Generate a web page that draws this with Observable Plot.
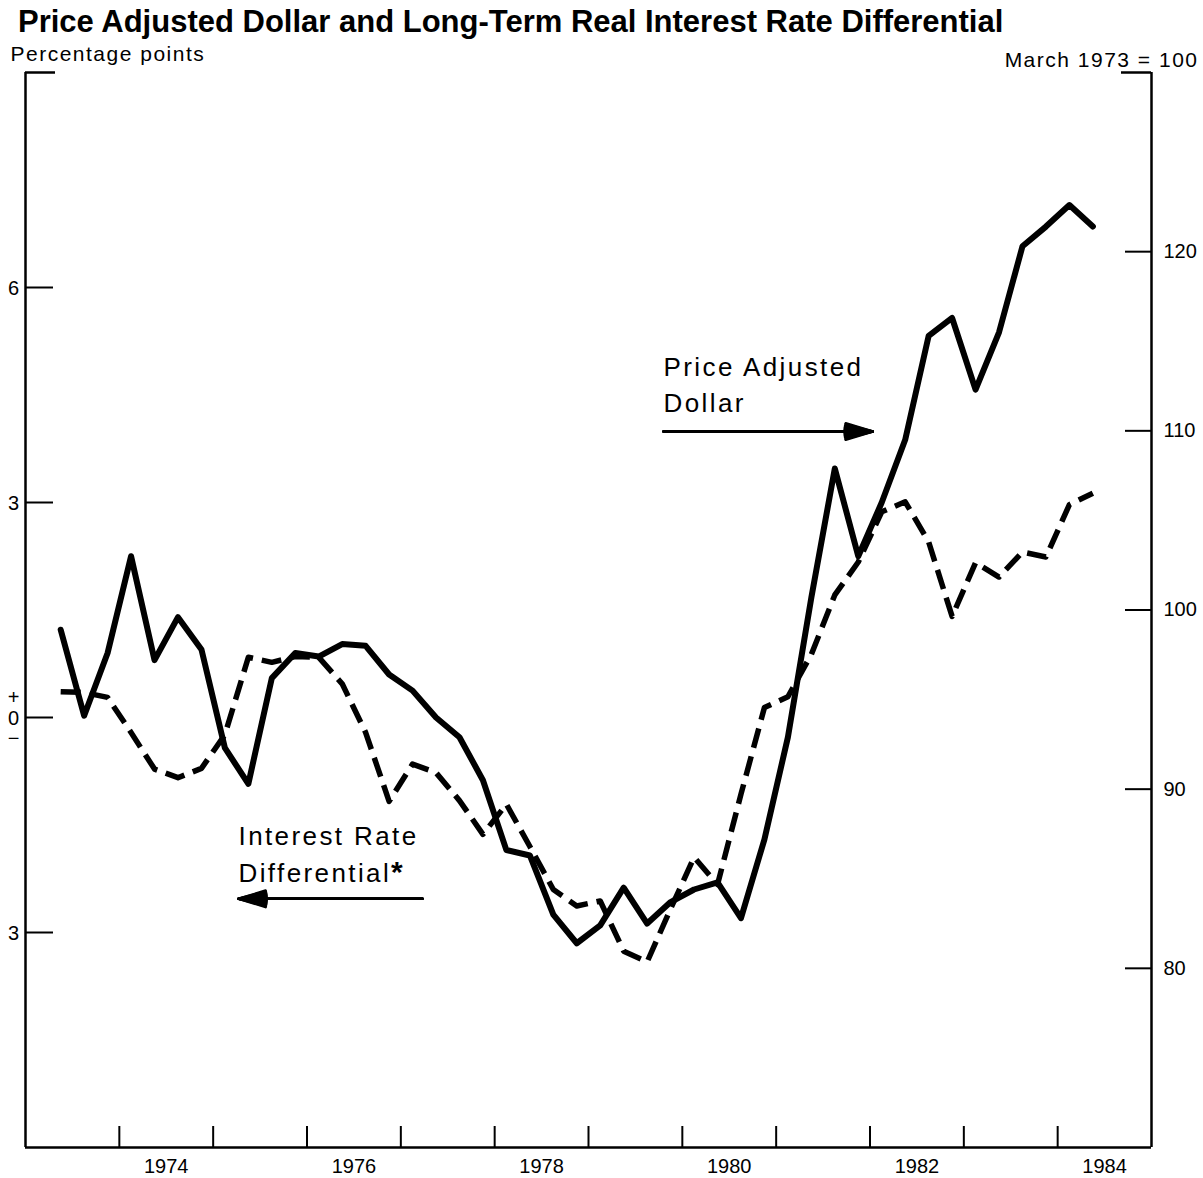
<!DOCTYPE html>
<html>
<head>
<meta charset="utf-8">
<script src="https://cdn.jsdelivr.net/npm/d3@7"></script>
<script src="https://cdn.jsdelivr.net/npm/@observablehq/plot@0.6"></script>
<style>
  html, body { margin: 0; padding: 0; background: #fff; }
  #title {
    font-family: "Liberation Sans", Arial, Helvetica, sans-serif;
    font-weight: bold; font-size: 31px; line-height: 36px;
    height: 36px; padding: 4px 0 0 18px; color: #000; white-space: nowrap;
  }
  #chart svg { display: block; }
</style>
</head>
<body>
<div id="title">Price Adjusted Dollar and Long-Term Real Interest Rate Differential</div>
<div id="chart"></div>
<script>
// Quarterly observations (plotted at quarter midpoints)
const quarters = [
  "1973Q2","1973Q3","1973Q4",
  "1974Q1","1974Q2","1974Q3","1974Q4",
  "1975Q1","1975Q2","1975Q3","1975Q4",
  "1976Q1","1976Q2","1976Q3","1976Q4",
  "1977Q1","1977Q2","1977Q3","1977Q4",
  "1978Q1","1978Q2","1978Q3","1978Q4",
  "1979Q1","1979Q2","1979Q3","1979Q4",
  "1980Q1","1980Q2","1980Q3","1980Q4",
  "1981Q1","1981Q2","1981Q3","1981Q4",
  "1982Q1","1982Q2","1982Q3","1982Q4",
  "1983Q1","1983Q2","1983Q3","1983Q4",
  "1984Q1","1984Q2"
];
// Price adjusted dollar, March 1973 = 100 (right scale)
const dollarIndex = [
  98.9, 94.1, 97.6,
  103.0, 97.2, 99.6, 97.8,
  92.3, 90.3, 96.2, 97.6,
  97.4, 98.1, 98.0, 96.4,
  95.5, 94.0, 92.9, 90.5,
  86.6, 86.3, 83.0, 81.4,
  82.4, 84.5, 82.5, 83.7,
  84.4, 84.8, 82.8, 87.2,
  92.9, 100.7, 107.9, 103.0,
  106.0, 109.5, 115.3, 116.3,
  112.3, 115.5, 120.3, 121.4,
  122.6, 121.4
];
// Long-term real interest rate differential, percentage points (left scale)
const rateDiff = [
  0.36, 0.35, 0.28,
  -0.21, -0.72, -0.84, -0.71,
  -0.24, 0.84, 0.77, 0.85,
  0.84, 0.47, -0.21, -1.17,
  -0.65, -0.77, -1.16, -1.63,
  -1.21, -1.80, -2.40, -2.63,
  -2.56, -3.26, -3.41, -2.67,
  -1.95, -2.33, -1.07, 0.14,
  0.29, 0.88, 1.71, 2.17,
  2.87, 3.01, 2.45, 1.41,
  2.16, 1.96, 2.31, 2.24,
  2.97, 3.13
];

// Axis ticks & labels
const yearTicks = [1974, 1975, 1976, 1977, 1978, 1979, 1980, 1981, 1982, 1983, 1984];
const yearLabels = [1974, 1976, 1978, 1980, 1982, 1984];
const leftTicks = [-3, 0, 3, 6];
const leftTickLabels = ["3", "0", "3", "6"];
const zeroSigns = [{text: "+", dy: -19.5}, {text: "\u2212", dy: 21.5}];
const rightTicks = [80, 90, 100, 110, 120];
const leftAxisTitle = "Percentage points";
const rightAxisTitle = "March 1973 = 100";

// Annotations (data coordinates)
const annotations = [
  {text: "Price Adjusted\nDollar", x: 1979.80, y: 5.13},
  {text: "Interest Rate\nDifferential*", x: 1975.27, y: -1.42}
];
const arrows = [
  {x1: 1979.80, x2: 1982.03, y: 3.99},
  {x1: 1977.23, x2: 1975.27, y: -2.53}
];

// Right scale mapped onto left scale: right = 94 + 4 * left
const toLeft = v => (v - 94) / 4;
const qTime = q => +q.slice(0, 4) + (+q.slice(5) - 1) / 4 + 0.125;

const dollar = quarters.map((q, i) => ({t: qTime(q), v: toLeft(dollarIndex[i])}));
const rate = quarters.map((q, i) => ({t: qTime(q), v: rateDiff[i]}));

const W = 1203, H = 1138, mt = 32, mb = 31, ml = 25, mr = 52;
const pw = W - ml - mr, ph = H - mt - mb;

const headAngles = [6, 12, 18, 24, 30, 34];

const fig = Plot.plot({
  width: W, height: H,
  marginTop: mt, marginBottom: mb, marginLeft: ml, marginRight: mr,
  x: {domain: [1973, 1985], axis: null},
  y: {domain: [-6, 9], axis: null},
  style: {fontFamily: "'Liberation Sans', Arial, Helvetica, sans-serif", fontSize: "20px", color: "#000", background: "#fff", overflow: "visible"},
  marks: [
    // frame
    Plot.ruleX([1973, 1985], {stroke: "#000", strokeWidth: 2.5}),
    Plot.ruleY([-6], {stroke: "#000", strokeWidth: 2.5}),
    Plot.ruleY([9], {stroke: "#000", strokeWidth: 2.5, insetRight: pw - 30}),
    Plot.ruleY([9], {stroke: "#000", strokeWidth: 2.5, insetLeft: pw - 30}),
    // ticks
    Plot.ruleX(yearTicks, {stroke: "#000", strokeWidth: 2, insetTop: ph - 21}),
    Plot.ruleY(leftTicks, {stroke: "#000", strokeWidth: 2, insetRight: pw - 28}),
    Plot.ruleY(rightTicks, {y: toLeft, stroke: "#000", strokeWidth: 2, insetLeft: pw - 26}),
    // tick labels
    Plot.text(yearLabels, {x: d => d + 0.5, frameAnchor: "bottom", dy: 19, lineAnchor: "middle", text: d => String(d), fill: "#000"}),
    Plot.text(leftTicks, {y: d => d, frameAnchor: "left", dx: -12, dy: 1, textAnchor: "middle", lineAnchor: "middle", text: (d, i) => leftTickLabels[i], fill: "#000"}),
    ...zeroSigns.map(s => Plot.text([0], {y: d => d, frameAnchor: "left", dx: -12, dy: s.dy, textAnchor: "middle", lineAnchor: "middle", text: () => s.text, fill: "#000"})),
    Plot.text(rightTicks, {y: toLeft, frameAnchor: "right", dx: 12, textAnchor: "start", lineAnchor: "middle", text: d => String(d), fill: "#000"}),
    // axis titles
    Plot.text([leftAxisTitle], {frameAnchor: "top-left", dx: -15, dy: -12, textAnchor: "start", lineAnchor: "bottom", fontSize: 21, text: d => d, fill: "#000"}),
    Plot.text([rightAxisTitle], {frameAnchor: "top-right", dx: 47, dy: -6, textAnchor: "end", lineAnchor: "bottom", fontSize: 21, text: d => d, fill: "#000"}),
    // data
    Plot.line(rate, {x: "t", y: "v", stroke: "#000", strokeWidth: 5.5, strokeDasharray: "20,9", strokeLinecap: "butt", strokeLinejoin: "round"}),
    Plot.line(dollar, {x: "t", y: "v", stroke: "#000", strokeWidth: 6, strokeLinejoin: "round"}),
    // annotations
    Plot.text(annotations, {x: "x", y: "y", text: "text", textAnchor: "start", lineAnchor: "top", lineHeight: 1.4, fontSize: 26, fill: "#000"}),
    ...headAngles.map(a => Plot.arrow(arrows, {x1: "x1", x2: "x2", y1: "y", y2: "y", stroke: "#000", strokeWidth: 2.5, headAngle: a, headLength: 17}))
  ]
});

document.getElementById("chart").appendChild(fig);

// letter spacing to mimic the original typesetting
d3.select(fig).selectAll('g[font-size="26"]').attr("letter-spacing", "2.4");
d3.select(fig).selectAll('g[font-size="21"]').attr("letter-spacing", "1.5");
// bold asterisk
d3.select(fig).selectAll("tspan").each(function() {
  const s = d3.select(this);
  if (s.text() === "Differential*") {
    s.text("Differential");
    s.append("tspan").attr("font-weight", "bold").attr("font-size", 30).text("*");
  }
});
</script>
</body>
</html>
